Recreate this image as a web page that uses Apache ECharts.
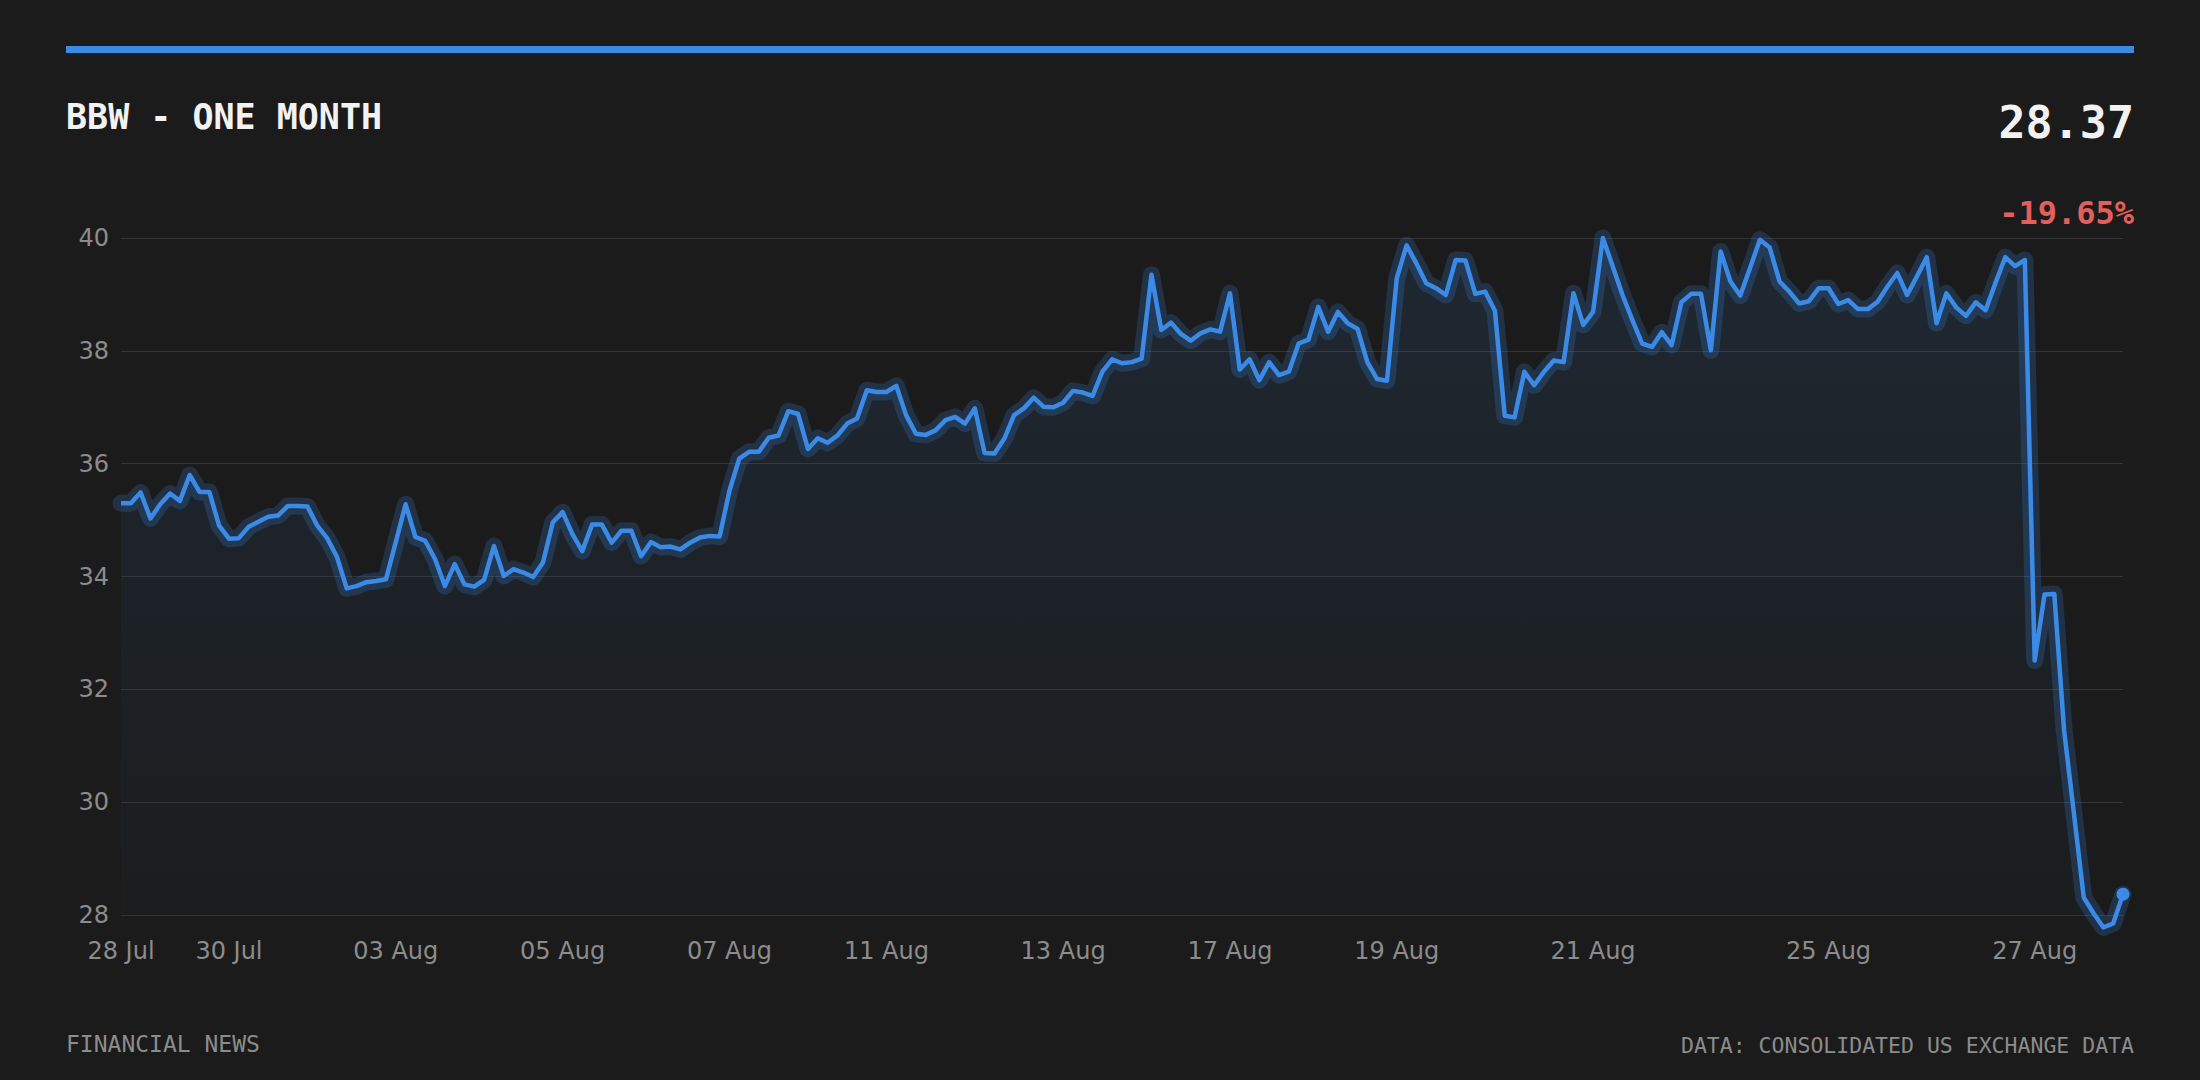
<!DOCTYPE html>
<html>
<head>
<meta charset="utf-8">
<title>BBW - One Month</title>
<script src="https://cdn.jsdelivr.net/npm/echarts@6/dist/echarts.min.js"></script>
<style>
html, body { margin: 0; padding: 0; background: #1b1b1b; }
#chart { width: 2200px; height: 1080px; }
</style>
</head>
<body>
<div id="chart"></div>
<script>
// trading days and how many samples fall in each one
var days = ['28 Jul', '29 Jul', '30 Jul', '31 Jul', '03 Aug', '04 Aug', '05 Aug', '06 Aug',
    '07 Aug', '10 Aug', '11 Aug', '12 Aug', '13 Aug', '14 Aug', '17 Aug', '18 Aug',
    '19 Aug', '20 Aug', '21 Aug', '24 Aug', '25 Aug', '26 Aug', '27 Aug', '28 Aug'];
var pointsPerDay = [6, 5, 9, 8, 9, 8, 9, 8, 8, 8, 9, 9, 9, 8, 9, 8, 10, 10, 12, 12, 11, 10, 5, 5];

var bbw = [
    35.30, 35.30, 35.49, 35.03, 35.28, 35.47, 35.34, 35.80, 35.50, 35.50,
    34.90, 34.67, 34.68, 34.88, 34.97, 35.06, 35.08, 35.25, 35.25, 35.24,
    34.90, 34.68, 34.35, 33.79, 33.83, 33.90, 33.92, 33.95, 34.61, 35.28,
    34.70, 34.63, 34.31, 33.83, 34.22, 33.86, 33.82, 33.94, 34.54, 34.01,
    34.13, 34.07, 33.99, 34.25, 34.96, 35.14, 34.75, 34.45, 34.92, 34.92,
    34.60, 34.81, 34.81, 34.36, 34.61, 34.52, 34.53, 34.48, 34.60, 34.69,
    34.72, 34.71, 35.52, 36.09, 36.21, 36.21, 36.46, 36.50, 36.93, 36.88,
    36.26, 36.45, 36.37, 36.50, 36.71, 36.80, 37.30, 37.27, 37.27, 37.38,
    36.86, 36.53, 36.51, 36.59, 36.77, 36.83, 36.71, 36.98, 36.19, 36.18,
    36.44, 36.86, 36.98, 37.17, 37.01, 37.00, 37.08, 37.29, 37.26, 37.20,
    37.63, 37.85, 37.78, 37.80, 37.86, 39.35, 38.37, 38.50, 38.30, 38.18,
    38.31, 38.38, 38.34, 39.02, 37.67, 37.85, 37.48, 37.80, 37.57, 37.63,
    38.13, 38.20, 38.78, 38.34, 38.69, 38.49, 38.39, 37.80, 37.50, 37.47,
    39.29, 39.87, 39.55, 39.20, 39.11, 38.99, 39.61, 39.60, 39.01, 39.05,
    38.71, 36.85, 36.82, 37.63, 37.39, 37.63, 37.83, 37.80, 39.02, 38.46,
    38.69, 40.00, 39.50, 38.99, 38.55, 38.13, 38.07, 38.33, 38.10, 38.86,
    39.01, 39.01, 38.01, 39.76, 39.23, 38.98, 39.47, 39.97, 39.83, 39.23,
    39.05, 38.84, 38.88, 39.11, 39.11, 38.83, 38.90, 38.74, 38.74, 38.87,
    39.14, 39.38, 38.99, 39.32, 39.66, 38.49, 39.02, 38.77, 38.62, 38.86,
    38.72, 39.20, 39.66, 39.50, 39.61, 32.51, 33.68, 33.69, 31.27, 29.80,
    28.31, 28.03, 27.78, 27.85, 28.37
];

var yMin = 28, yMax = 40, yStep = 2;
var lastValue = '28.37';
var changeText = '-19.65%';

var categories = [];
var labelAt = {};
days.forEach(function (d, i) {
    if (i % 2 === 0) labelAt[categories.length] = true;
    for (var k = 0; k < pointsPerDay[i]; k++) categories.push(d);
});

var blue = '#3b8ae6';
var grey = '#8c8c8c';

var chart = echarts.init(document.getElementById('chart'), null, { renderer: 'svg' });
chart.setOption({
    backgroundColor: '#1b1b1b',
    animation: false,
    grid: {
        left: 121,
        right: 77,
        top: 238,
        bottom: 165,
        outerBoundsMode: 'none'
    },
    graphic: [
        { type: 'rect', shape: { x: 66, y: 46, width: 2068, height: 7 }, style: { fill: blue } },
        {
            type: 'text', x: 66, y: 117,
            style: { text: 'BBW - ONE MONTH', font: 'bold 35px "DejaVu Sans Mono"', fill: '#f2f2f2', align: 'left', verticalAlign: 'middle' }
        },
        {
            type: 'text', x: 2134, y: 122,
            style: { text: lastValue, font: 'bold 45px "DejaVu Sans Mono"', fill: '#f2f2f2', align: 'right', verticalAlign: 'middle' }
        },
        {
            type: 'text', x: 2134, y: 213,
            style: { text: changeText, font: 'bold 32px "DejaVu Sans Mono"', fill: '#e35f5c', align: 'right', verticalAlign: 'middle' }
        },
        {
            type: 'text', x: 66, y: 1044,
            style: { text: 'FINANCIAL NEWS', font: '23px "DejaVu Sans Mono"', fill: grey, align: 'left', verticalAlign: 'middle' }
        },
        {
            type: 'text', x: 2134, y: 1045,
            style: { text: 'DATA: CONSOLIDATED US EXCHANGE DATA', font: '21.5px "DejaVu Sans Mono"', fill: grey, align: 'right', verticalAlign: 'middle' }
        }
    ],
    xAxis: {
        type: 'category',
        boundaryGap: false,
        data: categories,
        axisLine: { show: false },
        axisTick: { show: false },
        splitLine: { show: false },
        axisLabel: {
            interval: function (index) { return !!labelAt[index]; },
            color: grey,
            fontSize: 24,
            fontFamily: 'DejaVu Sans',
            margin: 24
        }
    },
    yAxis: {
        type: 'value',
        min: yMin,
        max: yMax,
        interval: yStep,
        axisLine: { show: false },
        axisTick: { show: false },
        axisLabel: {
            color: grey,
            fontSize: 24,
            fontFamily: 'DejaVu Sans',
            margin: 12
        },
        splitLine: { lineStyle: { color: '#333333', width: 1.2 } }
    },
    series: [
        {
            // soft halo under the main line
            type: 'line',
            data: bbw,
            silent: true,
            symbol: 'none',
            clip: false,
            z: 1,
            lineStyle: { width: 17, color: 'rgba(59,138,230,0.21)', cap: 'round', join: 'round' }
        },
        {
            type: 'line',
            data: bbw,
            clip: false,
            z: 2,
            showAllSymbol: true,
            symbol: function (v, p) { return p.dataIndex === bbw.length - 1 ? 'circle' : 'none'; },
            symbolSize: 13,
            itemStyle: { color: blue },
            lineStyle: { width: 4.5, color: blue, join: 'round' },
            areaStyle: {
                color: new echarts.graphic.LinearGradient(0, 0, 0, 1, [
                    { offset: 0, color: 'rgba(59,138,230,0.16)' },
                    { offset: 1, color: 'rgba(59,138,230,0.02)' }
                ])
            }
        }
    ]
});

window.addEventListener('resize', function () {
    chart.resize();
});
</script>
</body>
</html>
